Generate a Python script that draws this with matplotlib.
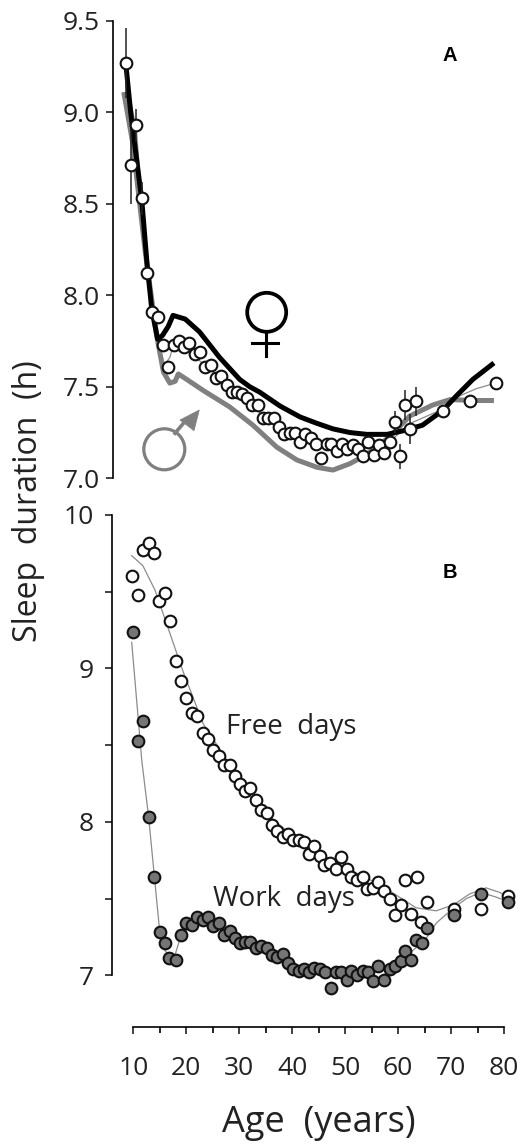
import matplotlib
matplotlib.use('Agg')
import matplotlib.pyplot as plt
from matplotlib.patches import Circle, Polygon
from matplotlib.lines import Line2D
from matplotlib.transforms import Affine2D

plt.rcParams['font.family'] = ['Open Sans', 'DejaVu Sans']

# === Panel A: all subjects, by sex ===
age_a = [8.6, 9.6, 10.6, 11.6, 12.6, 13.6, 14.6, 15.6, 16.6, 17.6, 18.6, 19.6, 20.6, 21.6, 22.6,
         23.6, 24.6, 25.6, 26.6, 27.6, 28.6, 29.5, 30.5, 31.5, 32.5, 33.5, 34.5, 35.5, 36.5, 37.5,
         38.5, 39.5, 40.5, 41.5, 42.5, 43.5, 44.5, 45.5, 46.5, 47.4, 48.4, 49.4, 50.4, 51.4, 52.4,
         53.4, 54.4, 55.4, 56.4, 57.4, 58.4, 59.4, 60.3, 61.3, 62.3, 63.3, 68.4, 73.5, 78.4]
sleep_a = [9.27, 8.71, 8.93, 8.53, 8.12, 7.91, 7.88, 7.73, 7.61, 7.73, 7.75, 7.72, 7.74, 7.68, 7.69,
           7.61, 7.62, 7.55, 7.56, 7.51, 7.47, 7.47, 7.46, 7.44, 7.40, 7.40, 7.33, 7.33, 7.33, 7.28,
           7.24, 7.25, 7.25, 7.20, 7.24, 7.22, 7.19, 7.11, 7.19, 7.19, 7.15, 7.19, 7.16, 7.18, 7.16,
           7.12, 7.20, 7.13, 7.18, 7.14, 7.20, 7.31, 7.12, 7.40, 7.27, 7.42, 7.37, 7.42, 7.52]

err_age = [8.6, 9.6, 10.6, 11.6, 59.4, 60.3, 61.3, 62.3, 63.3]
err_mid = [9.27, 8.71, 8.93, 8.53, 7.31, 7.12, 7.40, 7.27, 7.42]
err_size = [0.19, 0.21, 0.09, 0.09, 0.06, 0.07, 0.08, 0.08, 0.08]

female_age = [8.6, 9.5, 11.6, 12.6, 13.5, 14.6, 15.5, 16.6, 17.5, 19.8, 22.5, 26.3, 28.2, 30.1, 32.0,
              33.9, 37.7, 41.5, 44.7, 47.7, 50.9, 54.1, 57.9, 61.0, 64.6, 68.4, 71.0, 74.1, 78.1]
female_fit = [9.26, 9.00, 8.52, 8.17, 7.92, 7.76, 7.78, 7.83, 7.89, 7.87, 7.80, 7.66, 7.60, 7.54, 7.50,
              7.47, 7.395, 7.335, 7.30, 7.27, 7.25, 7.24, 7.24, 7.26, 7.29, 7.37, 7.45, 7.54, 7.63]

male_age = [8.2, 9.9, 12.2, 14.4, 15.7, 16.9, 17.9, 18.5, 20.1, 23.2, 28.2, 32.6, 37.1, 40.9,
            44.7, 47.7, 50.9, 54.1, 58.5, 62.2, 66.5, 69.8, 74.8, 78.1]
male_fit = [9.11, 8.83, 8.25, 7.78, 7.58, 7.52, 7.53, 7.57, 7.54, 7.48, 7.39, 7.29, 7.17, 7.10,
            7.06, 7.045, 7.08, 7.13, 7.23, 7.34, 7.40, 7.43, 7.425, 7.425]

all_age = [8.6, 10.6, 12.6, 14.6, 15.9, 16.9, 17.6, 20.1, 25.1, 30.0, 35.0, 40.0, 45.0, 50.0,
           55.0, 58.4, 62.3, 67.8, 70.8, 74.8, 78.4]
all_fit = [9.20, 8.90, 8.15, 7.75, 7.62, 7.66, 7.73, 7.70, 7.58, 7.46, 7.33, 7.23, 7.17, 7.16,
           7.17, 7.20, 7.30, 7.37, 7.44, 7.49, 7.52]

# === Panel B: free days vs work days ===
age_free = [9.8, 10.9, 11.8, 12.9, 14.0, 14.9, 16.0, 16.9, 18.1, 19.0, 20.0, 21.0, 22.1, 23.1, 24.1,
            25.1, 26.2, 27.2, 28.2, 29.2, 30.1, 31.1, 32.1, 33.1, 34.2, 35.2, 36.2, 37.2, 38.2, 39.2,
            40.2, 41.3, 42.3, 43.2, 44.2, 45.2, 46.1, 47.2, 48.2, 49.3, 50.3, 51.2, 52.2, 53.3, 54.2,
            55.3, 56.3, 57.4, 58.4, 59.4, 60.5, 61.4, 62.4, 63.5, 64.4, 65.5, 70.6, 75.6, 80.7]
sleep_free = [9.60, 9.48, 9.77, 9.82, 9.75, 9.44, 9.49, 9.31, 9.05, 8.92, 8.81, 8.71, 8.69, 8.58, 8.54,
              8.47, 8.43, 8.37, 8.37, 8.30, 8.25, 8.20, 8.22, 8.14, 8.08, 8.06, 7.98, 7.94, 7.90, 7.92,
              7.88, 7.88, 7.87, 7.79, 7.84, 7.78, 7.72, 7.73, 7.69, 7.77, 7.69, 7.64, 7.62, 7.64, 7.56,
              7.57, 7.61, 7.55, 7.50, 7.39, 7.46, 7.62, 7.40, 7.64, 7.35, 7.48, 7.43, 7.43, 7.52]

age_work = [9.9, 10.9, 11.9, 12.9, 13.9, 15.0, 16.0, 16.8, 18.1, 19.0, 20.0, 21.0, 22.1, 23.1, 24.1,
            25.1, 26.1, 27.1, 28.2, 29.2, 30.1, 31.1, 32.1, 33.1, 34.2, 35.2, 36.2, 37.2, 38.2, 39.2,
            40.2, 41.3, 42.3, 43.2, 44.2, 45.2, 46.2, 47.3, 48.2, 49.3, 50.3, 51.2, 52.3, 53.3, 54.3,
            55.3, 56.3, 57.4, 58.4, 59.5, 60.5, 61.4, 62.5, 63.4, 64.5, 65.5, 70.6, 75.6, 80.7]
sleep_work = [9.24, 8.53, 8.66, 8.03, 7.64, 7.28, 7.21, 7.11, 7.10, 7.26, 7.34, 7.33, 7.38, 7.36, 7.38,
              7.32, 7.34, 7.26, 7.29, 7.24, 7.21, 7.22, 7.22, 7.18, 7.19, 7.18, 7.13, 7.12, 7.14, 7.08,
              7.04, 7.03, 7.04, 7.02, 7.05, 7.04, 7.02, 6.92, 7.02, 7.02, 6.97, 7.03, 7.00, 7.03, 7.02,
              6.96, 7.06, 6.97, 7.04, 7.06, 7.09, 7.16, 7.10, 7.23, 7.21, 7.31, 7.39, 7.53, 7.48]

free_fit_age = [9.7, 11.8, 14.1, 15.7, 19.5, 23.2, 33.1, 41.5, 49.0, 56.6, 63.4, 67.2, 70.5, 73.5,
                76.6, 79.2, 80.7]
free_fit = [9.735, 9.67, 9.51, 9.35, 8.97, 8.64, 8.11, 7.87, 7.72, 7.59, 7.44, 7.42, 7.46, 7.53,
            7.57, 7.54, 7.51]
work_fit_age = [9.7, 11.6, 12.9, 15.0, 16.0, 17.6, 19.0, 22.1, 28.3, 33.9, 41.5, 49.0, 56.6, 60.3,
                64.1, 65.5, 67.2, 70.5, 72.9, 75.6, 78.5, 80.7]
work_fit = [9.17, 8.40, 8.03, 7.28, 7.16, 7.10, 7.26, 7.36, 7.29, 7.19, 7.05, 7.01, 7.03, 7.09,
            7.20, 7.25, 7.34, 7.44, 7.50, 7.54, 7.51, 7.48]

W, H = 520, 1144
GRAY = '#808080'
GRAY_DOT = '#757575'
THIN = '#8c8c8c'
INK = '#222222'


def px_axes(fig, left, top, bottom):
    return fig.add_axes([left / W, 1 - bottom / H, (W - left) / W, (bottom - top) / H])


fig = plt.figure(figsize=(W / 100, H / 100), dpi=100)

# age axis: 10 sits at 133.3 px, 80 at 504 px
px_per_year = (504 - 133.3) / 70

ax_a = px_axes(fig, 113.3, 20.7, 478.3)
ax_a.set_xlim(10 + (113.3 - 133.3) / px_per_year, 10 + (W - 133.3) / px_per_year)
ax_a.set_ylim(7, 9.5)

ax_a.plot(all_age, all_fit, color=THIN, lw=0.9, zorder=1)
ax_a.plot(male_age, male_fit, color=GRAY, lw=3.6, solid_capstyle='butt', zorder=2)
ax_a.plot(female_age, female_fit, color='black', lw=3.6, solid_capstyle='butt', zorder=3)
ax_a.errorbar(err_age, err_mid, yerr=err_size, fmt='none', ecolor=INK, elinewidth=1.1, zorder=4)
ax_a.plot(age_a, sleep_a, 'o', ms=8.4, mfc='white', mec='#111111', mew=1.5, zorder=5)

ax_a.set_yticks([7, 7.5, 8, 8.5, 9, 9.5])
ax_a.set_yticklabels(['7.0', '7.5', '8.0', '8.5', '9.0', '9.5'])
ax_a.text(0.828, 0.923, 'A', transform=ax_a.transAxes, fontsize=14.5, fontweight='bold',
          family='Liberation Sans', ha='center', va='center')

ax_b = px_axes(fig, 112.3, 515, 1027)
ax_b.set_xlim(10 + (112.3 - 133.3) / px_per_year, 10 + (W - 133.3) / px_per_year)
ax_b.set_ylim(7 - (1027 - 975.3) / 153.43, 10)

ax_b.plot(free_fit_age, free_fit, color=THIN, lw=0.9, zorder=1)
ax_b.plot(work_fit_age, work_fit, color=THIN, lw=0.9, zorder=1)
ax_b.plot(age_free, sleep_free, 'o', ms=8.4, mfc='white', mec='#111111', mew=1.5, zorder=3)
ax_b.plot(age_work, sleep_work, 'o', ms=8.4, mfc=GRAY_DOT, mec='#111111', mew=1.5, zorder=4)

ax_b.set_yticks([7, 8, 9, 10])
ax_b.set_yticks([7.5, 8.5, 9.5], minor=True)
ax_b.set_xticks(list(range(10, 81, 10)))
ax_b.set_xticks(list(range(15, 80, 10)), minor=True)
ax_b.text(0.828, 0.887, 'B', transform=ax_b.transAxes, fontsize=14.5, fontweight='bold',
          family='Liberation Sans', ha='center', va='center')
ax_b.text(39.8, 8.62, 'Free  days', fontsize=20, color=INK, ha='center', va='center')
ax_b.text(38.5, 7.5, 'Work  days', fontsize=20, color=INK, ha='center', va='center')

for ax in (ax_a, ax_b):
    ax.patch.set_alpha(0)
    ax.spines['top'].set_visible(False)
    ax.spines['right'].set_visible(False)
    ax.spines['left'].set_linewidth(1.2)
    ax.tick_params(axis='y', which='both', length=5, width=1.2, labelsize=19, pad=5, colors=INK)

ax_a.spines['bottom'].set_visible(False)
ax_a.set_xticks([])
ax_b.tick_params(axis='y', which='major', pad=8)
ax_b.spines['left'].set_bounds(7, 10)
ax_b.spines['bottom'].set_bounds(10, 80)
ax_b.spines['bottom'].set_linewidth(1.2)
ax_b.tick_params(axis='x', which='major', length=5, width=1.2, labelsize=19, pad=16, colors=INK)
ax_b.tick_params(axis='x', which='minor', length=4, width=1.2)

# sex symbols, placed in image pixels (origin top left)
to_px = Affine2D().scale(1, -1).translate(0, H)
fig.add_artist(Circle((266.7, 312.3), 19.5, fill=False, ec='black', lw=2.7, transform=to_px))
fig.add_artist(Line2D([265.5, 265.5], [332, 356], color='black', lw=2.2, transform=to_px))
fig.add_artist(Line2D([252.3, 278.3], [342.7, 342.7], color='black', lw=2.2, transform=to_px))
fig.add_artist(Circle((164.3, 449.3), 20.5, fill=False, ec=GRAY, lw=2.3, transform=to_px))
fig.add_artist(Line2D([175, 187], [433.3, 419], color=GRAY, lw=2.6, transform=to_px))
fig.add_artist(Polygon([(180, 420), (194, 430.7), (199.3, 410)], closed=True, fc=GRAY, ec=GRAY,
                       lw=0.5, transform=to_px))

fig.text(319 / W, 1 - 1123 / H, 'Age  (years)', fontsize=26, color=INK, ha='center', va='center')
fig.text(29 / W, 1 - 501 / H, 'Sleep  duration  (h)', fontsize=23, color=INK, rotation=90,
         ha='center', va='center')

fig.savefig('out.png', dpi=100)
